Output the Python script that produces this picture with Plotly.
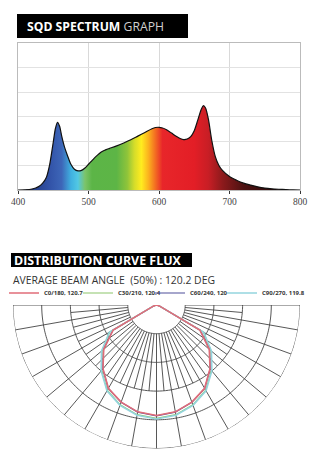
import numpy as np
import plotly.graph_objects as go

# ---------------- Spectrum data ----------------
wavelength = [400, 410, 420, 425, 430, 435, 440, 445, 450, 453, 456, 459, 462, 466, 470,
              475, 480, 485, 490, 495, 500, 505, 510, 515, 520, 525, 530, 540, 550, 560,
              570, 580, 590, 595, 600, 605, 610, 615, 620, 625, 630, 635, 640, 645, 650,
              655, 660, 663, 666, 670, 675, 680, 685, 690, 700, 710, 720, 730, 740, 750,
              760, 770, 780, 790, 800]
intensity = [0, 0.01, 0.04, 0.08, 0.15, 0.28, 0.5, 1.05, 1.95, 2.5, 2.76, 2.6, 2.2, 1.75, 1.42,
             1.05, 0.85, 0.78, 0.8, 0.9, 1.05, 1.2, 1.35, 1.48, 1.58, 1.65, 1.7, 1.8, 1.92, 2.05,
             2.2, 2.35, 2.5, 2.55, 2.56, 2.53, 2.47, 2.38, 2.28, 2.18, 2.1, 2.06, 2.08, 2.18, 2.42,
             2.85, 3.3, 3.44, 3.35, 2.9, 2.0, 1.35, 1.0, 0.8, 0.55, 0.4, 0.28, 0.2, 0.13, 0.08,
             0.05, 0.03, 0.015, 0.005, 0]
x_ticks = [400, 500, 600, 700, 800]

spectrum_stops = [400, 425, 445, 462, 475, 485, 495, 505, 540, 555, 565, 575, 585, 595, 605, 650, 670, 690, 720, 800]
spectrum_colors = ["#1c2456", "#26408c", "#3253a8", "#3d66b8", "#3fb0e0", "#52c8e4", "#7cc46a",
                   "#5cb547", "#5db546", "#8fc43a", "#d4dc2a", "#ffec1f", "#fbb21e", "#f36b22",
                   "#e8262a", "#e31e26", "#c81e25", "#8d1a1c", "#4d1212", "#140505"]

# ---------------- Distribution data (angle from nadir, half plane) ----------------
angles_half = [0, 10, 20, 30, 40, 50, 60, 70, 80, 90]
c0_180 = [3.85, 3.78, 3.6, 3.35, 2.9, 2.4, 1.74, 0.12, 0.03, 0]
c30_210 = [3.95, 3.88, 3.7, 3.43, 2.98, 2.48, 1.88, 0.12, 0.03, 0]
c60_240 = [3.86, 3.79, 3.61, 3.36, 2.91, 2.41, 1.76, 0.12, 0.03, 0]
c90_270 = [3.97, 3.9, 3.72, 3.45, 3.0, 2.5, 1.9, 0.12, 0.03, 0]
series_names = ["C0/180, 120.7", "C30/210, 120.4", "C60/240, 120", "C90/270, 119.8"]
series_colors = ["#e06c78", "#8cc66a", "#4f4e9a", "#93d4de"]
legend_ids = ["legend", "legend2", "legend3", "legend4"]


def full_plane(vals):
    theta = [-a for a in angles_half[::-1]] + angles_half[1:]
    r = vals[::-1] + vals[1:]
    return theta, r


fig = go.Figure()

# spectrum
scale = [[(s - 400) / 400, c] for s, c in zip(spectrum_stops, spectrum_colors)]
fig.add_trace(go.Scatter(
    x=wavelength, y=intensity, mode="lines", fill="tozeroy",
    line=dict(color="#111111", width=1.2, shape="spline", smoothing=0.8),
    fillgradient=dict(type="horizontal", colorscale=scale),
    showlegend=False, hoverinfo="skip", xaxis="x", yaxis="y"))

# polar grid
grid_col = "#444444"
arc_theta = list(np.linspace(-90, 90, 181))
ring_r, ring_t = [], []
for k in [1, 2, 3, 4, 5]:
    ring_r += [k] * len(arc_theta) + [None]
    ring_t += arc_theta + [None]
spoke_r, spoke_t = [], []
for a in range(-90, 91, 5):
    outer = 5 if a % 10 == 0 else 3
    spoke_r += [1, outer, None]
    spoke_t += [a, a, None]
for rr, tt in [(ring_r, ring_t), (spoke_r, spoke_t)]:
    fig.add_trace(go.Scatterpolar(r=rr, theta=tt, mode="lines",
                                  line=dict(color=grid_col, width=0.9),
                                  showlegend=False, hoverinfo="skip"))

# curves (drawn: green, purple, cyan, red)
data = [c0_180, c30_210, c60_240, c90_270]
draw_order = [1, 2, 3, 0]
for i in draw_order:
    t, r = full_plane(data[i])
    fig.add_trace(go.Scatterpolar(
        r=r, theta=t, mode="lines", name=series_names[i], legend=legend_ids[i],
        line=dict(color=series_colors[i], width=1.6 if i in (0, 3) else 1.2),
        hoverinfo="skip"))

W, H = 320, 452
def px(v):
    return v / W
def py(v):
    return 1 - v / H

hidden_axis = dict(showline=False, showgrid=False, showticklabels=False, ticks="")

legend_x = [4, 78, 150, 222]
legends = {}
for lid, lx in zip(legend_ids, legend_x):
    legends[lid] = dict(orientation="h", x=px(lx), y=py(293), xanchor="left", yanchor="middle",
                        font=dict(size=6, color="#333", weight=700),
                        bgcolor="rgba(0,0,0,0)", itemwidth=30)

fig.update_layout(
    width=W, height=H, margin=dict(l=0, r=0, t=0, b=0, pad=0, autoexpand=False),
    paper_bgcolor="white", plot_bgcolor="white",
    font=dict(family="Open Sans", color="#333"),
    xaxis=dict(domain=[px(18), px(300)], range=[400, 800], tickvals=x_ticks,
               showgrid=True, gridcolor="#d9d9d9", gridwidth=1,
               showline=True, linecolor="#bbbbbb", mirror=True,
               ticks="outside", ticklen=3, tickcolor="#333", automargin=False,
               tickfont=dict(family="Liberation Sans Narrow", size=9.5, color="#444"),
               zeroline=False, fixedrange=True),
    yaxis=dict(domain=[py(190), py(43)], range=[0, 6], dtick=1, automargin=False,
               showgrid=True, gridcolor="#e2e2e2", showticklabels=False,
               showline=True, linecolor="#bbbbbb", mirror=True,
               zeroline=True, zerolinecolor="#222", zerolinewidth=1.2, fixedrange=True),
    polar=dict(
        domain=dict(x=[px(13), px(300)], y=[py(448.5), py(305)]),
        sector=[180, 360], bgcolor="rgba(0,0,0,0)",
        radialaxis=dict(range=[0, 5], autorange=False, **hidden_axis),
        angularaxis=dict(rotation=270, direction="counterclockwise", **hidden_axis),
    ),
    showlegend=True,
    shapes=[
        dict(type="rect", xref="paper", yref="paper", x0=px(17), x1=px(188), y0=py(38), y1=py(14),
             fillcolor="black", line=dict(width=0), layer="below"),
        dict(type="rect", xref="paper", yref="paper", x0=px(11), x1=px(192), y0=py(267), y1=py(253),
             fillcolor="black", line=dict(width=0), layer="below"),
    ],
    annotations=[
        dict(xref="paper", yref="paper", x=px(25), y=py(26.5), xanchor="left", yanchor="middle",
             showarrow=False, text="<b>SQD SPECTRUM</b> <span style='color:#d0d0d0'>GRAPH</span>",
             font=dict(family="Open Sans", size=12.2, color="white")),
        dict(xref="paper", yref="paper", x=px(12), y=py(260), xanchor="left", yanchor="middle",
             showarrow=False, text="<b>DISTRIBUTION CURVE FLUX</b>",
             font=dict(family="Open Sans", size=12.4, color="white")),
        dict(xref="paper", yref="paper", x=px(11), y=py(280), xanchor="left", yanchor="middle",
             showarrow=False, text="AVERAGE BEAM ANGLE  (50%) : 120.2 DEG",
             font=dict(family="Open Sans", size=10.4, color="#333")),
    ],
    **legends,
)

fig.write_html("out.html",
               post_script="document.body.style.margin='0';document.body.style.overflow='hidden';")
